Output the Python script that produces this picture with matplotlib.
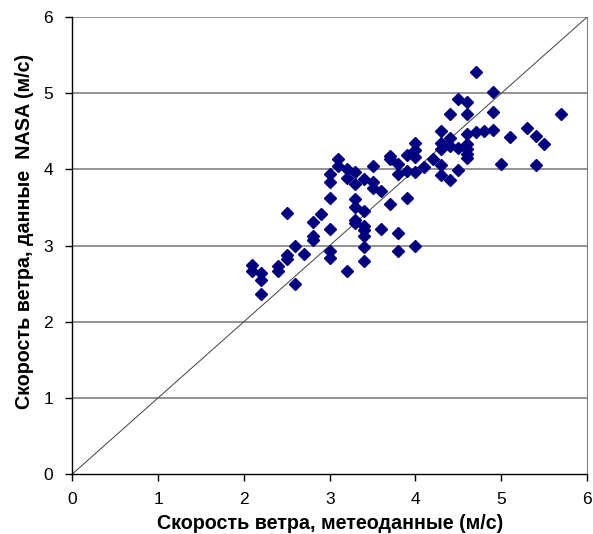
import matplotlib
matplotlib.use("Agg")
import matplotlib.pyplot as plt

meteo = [2.1, 2.1, 2.2, 2.2, 2.2, 2.4, 2.4, 2.5, 2.5, 2.5, 2.6, 2.6, 2.7, 2.8, 2.8, 2.8, 2.9,
         3.0, 3.0, 3.0, 3.0, 3.0, 3.0, 3.1, 3.1, 3.2, 3.2, 3.2, 3.3, 3.3, 3.3, 3.3, 3.3, 3.3,
         3.4, 3.4, 3.4, 3.4, 3.4, 3.4, 3.4, 3.5, 3.5, 3.5, 3.6, 3.6, 3.7, 3.7, 3.7,
         3.8, 3.8, 3.8, 3.8, 3.9, 3.9, 3.9, 4.0, 4.0, 4.0, 4.0, 4.0, 4.1, 4.2,
         4.3, 4.3, 4.3, 4.3, 4.3, 4.4, 4.4, 4.4, 4.4, 4.5, 4.5, 4.5,
         4.6, 4.6, 4.6, 4.6, 4.6, 4.6, 4.6, 4.7, 4.7, 4.8, 4.9, 4.9, 4.9,
         5.0, 5.1, 5.3, 5.4, 5.4, 5.5, 5.7]
nasa = [2.75, 2.66, 2.64, 2.55, 2.37, 2.73, 2.67, 2.87, 2.82, 3.43, 3.00, 2.49, 2.89, 3.31, 3.12, 3.07, 3.41,
        3.94, 3.83, 3.62, 3.22, 2.93, 2.83, 4.14, 4.05, 4.00, 3.89, 2.67, 3.96, 3.81, 3.61, 3.51, 3.33, 3.29,
        3.87, 3.46, 3.26, 3.20, 3.12, 2.98, 2.80, 4.05, 3.83, 3.76, 3.72, 3.22, 4.17, 4.13, 3.55,
        4.07, 3.94, 3.16, 2.93, 4.19, 3.98, 3.62, 4.34, 4.25, 4.16, 3.96, 2.99, 4.03, 4.14,
        4.50, 4.35, 4.27, 4.06, 3.93, 4.73, 4.41, 4.31, 3.86, 4.93, 4.28, 3.99,
        4.89, 4.73, 4.46, 4.33, 4.27, 4.20, 4.15, 5.28, 4.49, 4.51, 5.01, 4.75, 4.52,
        4.07, 4.42, 4.55, 4.44, 4.06, 4.33, 4.73]
ticks = [0, 1, 2, 3, 4, 5, 6]
xlabel = "Скорость ветра, метеоданные (м/с)"
ylabel = "Скорость ветра, данные  NASA (м/с)"

plt.rcParams['font.family'] = ['Liberation Sans', 'DejaVu Sans']

fig = plt.figure(figsize=(5.93, 5.34), dpi=100)
ax = fig.add_axes([0.122, 0.1124, 0.868, 0.8556])
ax.set_xlim(0, 6)
ax.set_ylim(0, 6)
for t in ticks[1:]:
    ax.axhline(t, color='#808080', lw=1.2, zorder=1)
ax.plot([0, 6], [0, 6], color='#404040', lw=0.7, zorder=2)
ax.plot(meteo, nasa, linestyle='none', marker='D', markersize=6, color='#000080', zorder=3)

ax.set_xticks(ticks)
ax.set_yticks(ticks)
ax.tick_params(direction='out', length=5, width=1, labelsize=12.5)
ax.tick_params(axis='x', pad=8)
ax.tick_params(axis='y', pad=9)
ax.spines['top'].set_visible(False)
ax.spines['right'].set_color('#808080')
ax.spines['left'].set_linewidth(1)
ax.spines['bottom'].set_linewidth(1)
ax.set_xlabel(xlabel, fontsize=14.2, fontweight='bold', labelpad=5)
ax.set_ylabel(ylabel, fontsize=14.2, fontweight='bold')
ax.yaxis.set_label_coords(-0.075, 0.53)

fig.savefig('out.png', dpi=100)
